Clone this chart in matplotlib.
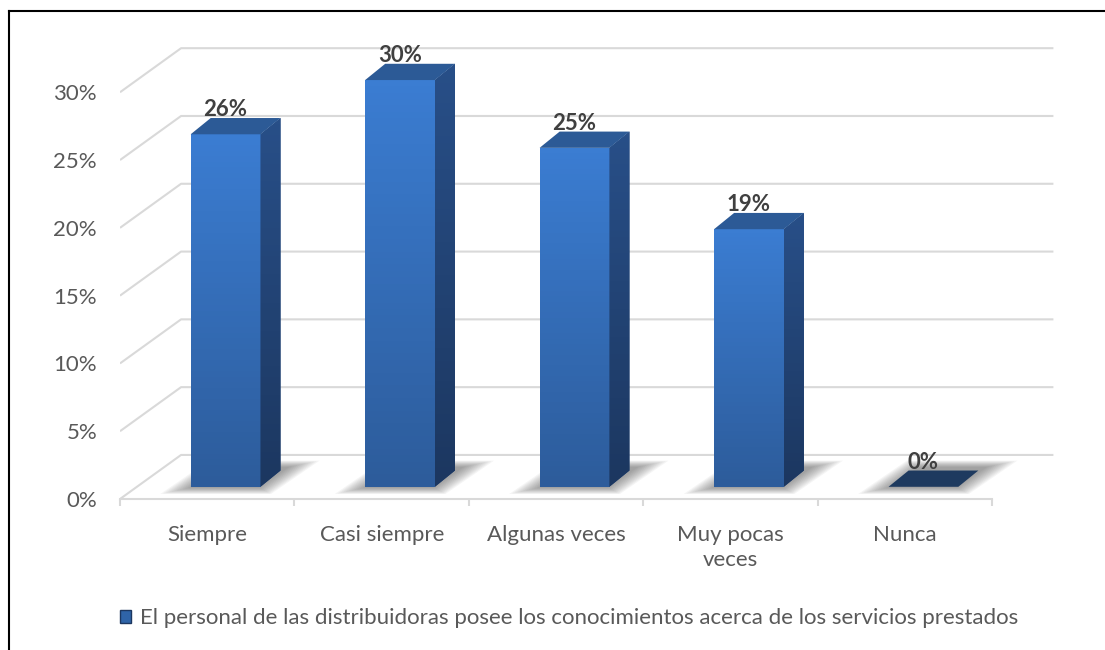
import numpy as np
import matplotlib.pyplot as plt
from matplotlib.patches import Polygon, Rectangle
from matplotlib.lines import Line2D
from matplotlib.colors import LinearSegmentedColormap

plt.rcParams['font.family'] = ['Lato', 'DejaVu Sans']

# datos
categorias = ['Siempre', 'Casi siempre', 'Algunas veces', 'Muy pocas\nveces', 'Nunca']
porcentajes = [26, 30, 25, 19, 0]
ticks_y = [0, 5, 10, 15, 20, 25, 30]
etiquetas_y = ['0%', '5%', '10%', '15%', '20%', '25%', '30%']
serie = 'El personal de las distribuidoras posee los conocimientos acerca de los servicios prestados'

# efecto 3d (en unidades de datos)
PARED_DX, PARED_DY = 0.35, 3.25   # pared del fondo
BARRA_DX, BARRA_DY = 0.105, 0.9   # plano frontal de las barras
PROF_DX, PROF_DY = 0.115, 1.2     # profundidad de cada barra
ANCHO = 0.40

GRIS = '#d9d9d9'
TEXTO = '#595959'

fig = plt.figure(figsize=(11.05, 6.5), dpi=100)
ax = fig.add_axes([0.1086, 0.2323, 0.8526, 0.7092])

# rejilla: diagonal izquierda + linea del fondo
for v in ticks_y:
    ax.plot([-0.5, -0.5 + PARED_DX, len(categorias) - 0.5 + PARED_DX],
            [v, v + PARED_DY, v + PARED_DY], color=GRIS, lw=1.5, zorder=1,
            solid_capstyle='butt')

frente_cmap = LinearSegmentedColormap.from_list('frente', ['#2d5c9b', '#3b7dd2'])
lado_cmap = LinearSegmentedColormap.from_list('lado', ['#1c3760', '#284f88'])
grad = np.linspace(0, 1, 64).reshape(-1, 1)

for i, v in enumerate(porcentajes):
    x0 = i - ANCHO / 2 + BARRA_DX
    x1 = x0 + ANCHO
    y0 = BARRA_DY
    y1 = y0 + v

    # sombra difusa sobre el piso
    sombra = np.array([(x0 - 0.07, y0 - 0.25), (x1 + 0.02, y0 - 0.25),
                       (x1 + PROF_DX + 0.12, y0 + PROF_DY + 0.45),
                       (x0 + PROF_DX + 0.03, y0 + PROF_DY + 0.45)])
    centro = sombra.mean(axis=0)
    for k in range(12):
        esc = 0.8 + 0.045 * k
        ax.add_patch(Polygon(centro + (sombra - centro) * esc, closed=True,
                             fc='#4a4a4a', ec='none', alpha=0.055, zorder=2))

    if v > 0:
        frente = ax.bar(x0 + ANCHO / 2, v, ANCHO, bottom=y0, color='#3270b8',
                        zorder=3)[0]
        im = ax.imshow(grad, cmap=frente_cmap, extent=[x0, x1, y0, y1],
                       origin='lower', aspect='auto', zorder=3.1)
        im.set_clip_path(frente)

        lado = Polygon([(x1, y0), (x1 + PROF_DX, y0 + PROF_DY),
                        (x1 + PROF_DX, y1 + PROF_DY), (x1, y1)],
                       closed=True, fc='#22467a', ec='none', zorder=3)
        ax.add_patch(lado)
        im2 = ax.imshow(grad, cmap=lado_cmap,
                        extent=[x1, x1 + PROF_DX, y0, y1 + PROF_DY],
                        origin='lower', aspect='auto', zorder=3.1)
        im2.set_clip_path(lado)
        color_tapa = '#2c5a96'
    else:
        color_tapa = '#1e3a5f'

    ax.add_patch(Polygon([(x0, y1), (x1, y1), (x1 + PROF_DX, y1 + PROF_DY),
                          (x0 + PROF_DX, y1 + PROF_DY)], closed=True,
                         fc=color_tapa, ec='none', zorder=3.2))

    ax.annotate(f'{v}%', (x0 + ANCHO / 2, y1 + PROF_DY), xytext=(0, -1.5),
                textcoords='offset points', ha='center', va='bottom',
                fontsize=16, fontweight='bold', color='#404040', zorder=5)

ax.set_xlim(-0.5, 4.9)
ax.set_ylim(0, 34)
ax.set_aspect('auto')

ax.set_yticks(ticks_y, etiquetas_y)
ax.tick_params(axis='y', length=0, pad=16.5, labelsize=16, labelcolor=TEXTO)

ax.set_xticks(range(len(categorias)), categorias)
ax.set_xticks(np.arange(-0.5, len(categorias), 1), minor=True)
ax.tick_params(axis='x', which='major', length=0, pad=18.5, labelsize=16,
               labelcolor=TEXTO)
ax.tick_params(axis='x', which='minor', length=5, width=1.5, color=GRIS)
plt.setp(ax.get_xticklabels(), linespacing=1.35)

for lado_eje in ['left', 'right', 'top']:
    ax.spines[lado_eje].set_visible(False)
ax.spines['bottom'].set_color(GRIS)
ax.spines['bottom'].set_linewidth(1.5)
ax.spines['bottom'].set_bounds(-0.5, len(categorias) - 0.5)

# leyenda
marca = Rectangle((0, 0), 1, 1, fc='#2f64a8', ec='#1c3760', lw=1)
fig.legend([marca], [serie], loc='center', bbox_to_anchor=(0.515, 0.049),
           frameon=False, fontsize=16, labelcolor=TEXTO, handlelength=0.5,
           handleheight=0.5, handletextpad=0.4)

# marco
fig.add_artist(Line2D([8.5 / 1105, 8.5 / 1105], [0, 1 - 11 / 650],
                      color='black', lw=1.5, transform=fig.transFigure))
fig.add_artist(Line2D([8.5 / 1105, 1], [1 - 11 / 650, 1 - 11 / 650],
                      color='black', lw=1.5, transform=fig.transFigure))

fig.savefig('out.png', dpi=100)
